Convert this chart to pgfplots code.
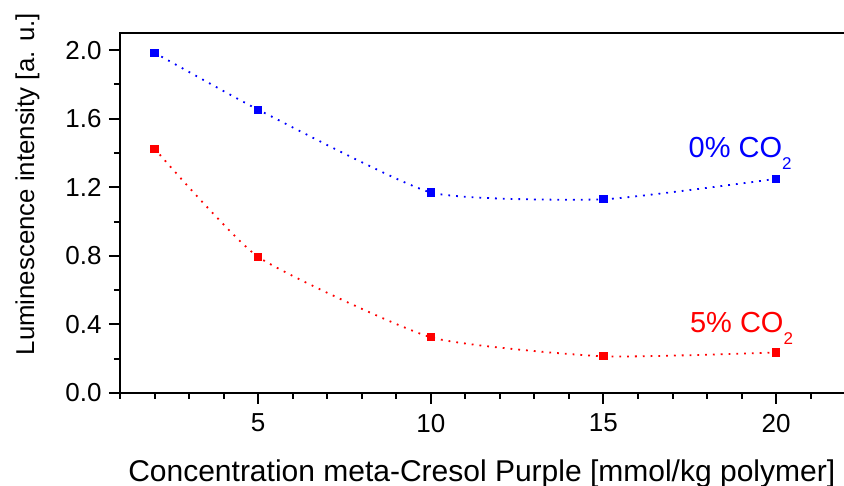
\documentclass[border=0pt]{standalone}
\usepackage{pgfplots}
\pgfplotsset{compat=1.18}
\usepackage{fontspec}
\setmainfont{Liberation Sans}
\usetikzlibrary{calc}
\definecolor{pblue}{RGB}{0,0,255}
\definecolor{pred}{RGB}{255,0,0}
\begin{document}
\begin{tikzpicture}
\begin{axis}[
  scale only axis,
  width=364.3pt, height=180pt,
  xmin=1, xmax=22.1,
  ymin=0, ymax=2.1,
  axis line style={line width=1pt},
  xtick={5,10,15,20},
  minor xtick={1,2,3,4,6,7,8,9,11,12,13,14,16,17,18,19,21,22},
  ytick={0,0.4,0.8,1.2,1.6,2.0},
  minor ytick={0.2,0.6,1.0,1.4,1.8},
  xtick pos=bottom, ytick pos=left,
  tick align=outside,
  major tick length=5.5pt, minor tick length=3pt,
  every tick/.style={black, line width=1pt},
  yticklabel style={/pgf/number format/fixed, /pgf/number format/fixed zerofill, /pgf/number format/precision=1, inner xsep=0pt, xshift=-3.5pt},
  /pgf/number format/assume math mode=true,
  ticklabel style={font=\fontsize{13}{15}\selectfont},
  xticklabel style={yshift=-1.5pt},
  xlabel={Concentration meta-Cresol Purple [mmol/kg polymer]},
  ylabel={Luminescence intensity [a. u.]},
  xlabel style={font=\fontsize{15}{17}\selectfont, at={(axis description cs:0.4965,0)}, anchor=base, yshift=-44.5pt},
  ylabel style={font=\fontsize{12.9}{15}\selectfont, at={(axis description cs:-0.127,0.58)}, anchor=center},
  clip=false,
]
\addplot[pblue, line width=0.9pt, dash pattern=on 0.9pt off 3pt, smooth, tension=0.3,
  mark=square*, mark size=1.6pt, mark options={solid}]
  coordinates {(2,1.985) (5,1.653) (10,1.17) (15,1.13) (20,1.249)};
\addplot[pred, line width=0.9pt, dash pattern=on 0.9pt off 3pt, smooth, tension=0.3,
  mark=square*, mark size=1.6pt, mark options={solid}]
  coordinates {(2,1.425) (5,0.794) (10,0.325) (15,0.214) (20,0.236)};
\node[text=pblue, anchor=base, font=\fontsize{14.5}{16}\selectfont] at (axis cs:18.96,1.376)
  {0\% CO\raisebox{-6pt}{\fontsize{8.5}{9}\selectfont 2}};
\node[text=pred, anchor=base, font=\fontsize{14.5}{16}\selectfont] at (axis cs:19.0,0.354)
  {5\% CO\raisebox{-6pt}{\fontsize{8.5}{9}\selectfont 2}};
\end{axis}
\pgfresetboundingbox
\path[use as bounding box] ($(current axis.south west)+(-60pt,-46.15pt)$) rectangle ($(current axis.south west)+(362pt,196.5pt)$);
\end{tikzpicture}
\end{document}
